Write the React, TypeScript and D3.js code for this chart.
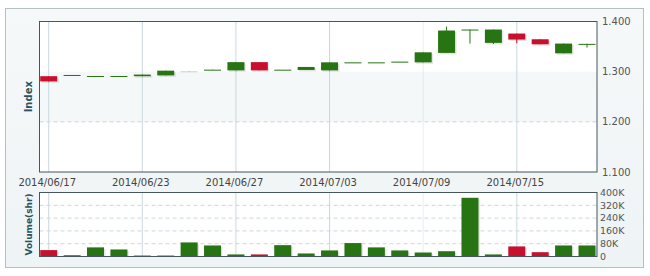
import React from "react";
import * as d3 from "d3";

const dates = [
  "2014/06/17", "2014/06/18", "2014/06/19", "2014/06/20", "2014/06/23", "2014/06/24",
  "2014/06/25", "2014/06/26", "2014/06/27", "2014/06/30", "2014/07/01", "2014/07/02",
  "2014/07/03", "2014/07/04", "2014/07/07", "2014/07/08", "2014/07/09", "2014/07/10",
  "2014/07/11", "2014/07/14", "2014/07/15", "2014/07/16", "2014/07/17", "2014/07/18",
];
const openV = [1.291, 1.2932, 1.2914, 1.2914, 1.291, 1.2926, 1.3004, 1.3034, 1.3026, 1.319, 1.304, 1.3034,
  1.3026, 1.3186, 1.3186, 1.32, 1.3186, 1.3374, 1.384, 1.3574, 1.376, 1.3646, 1.3366, 1.3552];
const closeV = [1.2806, 1.2934, 1.2914, 1.2914, 1.2942, 1.302, 1.3008, 1.304, 1.319, 1.3026, 1.304, 1.3094,
  1.3186, 1.3186, 1.3186, 1.32, 1.3386, 1.382, 1.384, 1.384, 1.364, 1.3546, 1.356, 1.3554];
const highV = [1.291, 1.2934, 1.2914, 1.2914, 1.2942, 1.302, 1.3008, 1.304, 1.319, 1.319, 1.304, 1.3094,
  1.3186, 1.3186, 1.3186, 1.32, 1.3386, 1.39, 1.384, 1.384, 1.376, 1.3646, 1.356, 1.3556];
const lowV = [1.2806, 1.2932, 1.2914, 1.2914, 1.291, 1.2926, 1.3004, 1.3034, 1.3026, 1.3026, 1.304, 1.3034,
  1.3026, 1.3186, 1.3186, 1.32, 1.3186, 1.3374, 1.356, 1.355, 1.3566, 1.3546, 1.3366, 1.348];
const volumeK = [40, 8, 57, 44, 6, 6, 88, 69, 13, 13, 71, 19, 38, 84, 57, 38, 25, 33, 367, 13, 63, 27, 69, 69];
const priceTicks = [1.1, 1.2, 1.3, 1.4];
const volTicks = [0, 80000, 160000, 240000, 320000, 400000];
const labelIdx = [0, 4, 8, 12, 16, 20];

const GREEN = "#277512";
const RED = "#c8102e";
const GRID = "#c9d8de";
const FONT = "DejaVu Sans, Verdana, sans-serif";

export default function App() {
  const L = 39.5, R = 597;
  const mT = 21.5, mB = 172;
  const vT = 192.5, vB = 256.5;
  const x = d3.scalePoint<string>().domain(dates).range([48.7, 587]);
  const y = d3.scaleLinear().domain([1.1, 1.4]).range([mB, mT]);
  const yv = d3.scaleLinear().domain([0, 400000]).range([vB, vT]);
  const cw = 17;
  const fmtP = d3.format(".3f");
  const fmtV = (v: number) => (v === 0 ? "0" : `${v / 1000}K`);

  return (
    <svg width={650} height={276} style={{ position: "absolute", left: 0, top: 0 }}>
      <defs>
        <linearGradient id="bg" x1="0" y1="0" x2="0" y2="1">
          <stop offset="0" stopColor="#f6f9fa" />
          <stop offset="1" stopColor="#eef3f5" />
        </linearGradient>
        <clipPath id="mclip"><rect x={L} y={mT} width={R - L} height={mB - mT} /></clipPath>
        <clipPath id="vclip"><rect x={L} y={vT} width={R - L} height={vB - vT} /></clipPath>
      </defs>
      <rect x={0} y={0} width={650} height={276} fill="#ffffff" />
      <rect x={5.5} y={8.5} width={638} height={259} fill="url(#bg)" stroke="#b4c0c4" />
      {/* main plot */}
      <rect x={L} y={mT} width={R - L} height={mB - mT} fill="#ffffff" />
      <rect x={L} y={y(1.3)} width={R - L} height={y(1.2) - y(1.3)} fill="#f5f8f9" />
      {labelIdx.map((i) => (
        <line key={"vg" + i} x1={x(dates[i])} x2={x(dates[i])} y1={mT} y2={mB}
          stroke={GRID} strokeWidth={1} opacity={i === 16 ? 0.4 : 1} />
      ))}
      <line x1={L} x2={R} y1={y(1.2)} y2={y(1.2)} stroke={GRID} strokeDasharray="4,3" />
      <g clipPath="url(#mclip)">
        {dates.map((d, i) => {
          const up = closeV[i] >= openV[i];
          const c = up ? GREEN : RED;
          const top = y(Math.max(openV[i], closeV[i]));
          const bot = y(Math.min(openV[i], closeV[i]));
          const h = Math.max(1, bot - top);
          const cx = x(d)!;
          return (
            <g key={d}>
              <line x1={cx} x2={cx} y1={y(highV[i])} y2={y(lowV[i])} stroke={c} strokeWidth={1} />
              {h > 1.5 && (
                <rect x={cx - cw / 2 + 1.5} y={top + 1.5} width={cw} height={h} fill="#000" opacity={0.1} />
              )}
              <rect x={cx - cw / 2} y={top} width={cw} height={h} fill={c} opacity={i === 6 ? 0.25 : 1} />
            </g>
          );
        })}
      </g>
      <rect x={L} y={mT} width={R - L} height={mB - mT} fill="none" stroke="#46565c" />
      {priceTicks.map((t) => (
        <text key={"pt" + t} x={602} y={y(t)} dy="0.35em" fontFamily={FONT} fontSize={10} fill="#555">
          {fmtP(t)}
        </text>
      ))}
      <text transform={`translate(31.5,${(mT + mB) / 2}) rotate(-90)`} textAnchor="middle"
        fontFamily={FONT} fontSize={10} fontWeight="bold" fill="#2a5361">Index</text>
      {labelIdx.map((i) => (
        <text key={"xl" + i} x={x(dates[i])! - 1.5} y={182} dy="0.35em" textAnchor="middle"
          fontFamily={FONT} fontSize={10} fill="#444">{dates[i]}</text>
      ))}
      {/* volume plot */}
      <rect x={L} y={vT} width={R - L} height={vB - vT} fill="#ffffff" />
      {labelIdx.map((i) => (
        <line key={"vvg" + i} x1={x(dates[i])} x2={x(dates[i])} y1={vT} y2={vB}
          stroke={GRID} strokeWidth={1} opacity={i === 16 ? 0.4 : 1} />
      ))}
      {volTicks.slice(1, -1).map((t) => (
        <line key={"vh" + t} x1={L} x2={R} y1={yv(t)} y2={yv(t)} stroke={GRID} strokeDasharray="4,3" />
      ))}
      <g clipPath="url(#vclip)">
        {dates.map((d, i) => {
          const up = closeV[i] >= openV[i];
          const c = up ? GREEN : RED;
          const cx = x(d)!;
          const v = volumeK[i] * 1000;
          return (
            <g key={"v" + d}>
              <rect x={cx - cw / 2 + 1.5} y={yv(v) + 1.5} width={cw} height={vB - yv(v)} fill="#000" opacity={0.1} />
              <rect x={cx - cw / 2} y={yv(v)} width={cw} height={vB - yv(v)} fill={c} />
            </g>
          );
        })}
      </g>
      <rect x={L} y={vT} width={R - L} height={vB - vT} fill="none" stroke="#46565c" />
      {volTicks.map((t) => (
        <text key={"vt" + t} x={600} y={yv(t)} dy="0.35em" fontFamily={FONT} fontSize={9.5} fill="#555">
          {fmtV(t)}
        </text>
      ))}
      <text transform={`translate(31.5,${(vT + vB) / 2}) rotate(-90)`} textAnchor="middle"
        fontFamily={FONT} fontSize={9} fontWeight="bold" fill="#2a5361">Volume(shr)</text>
    </svg>
  );
}
